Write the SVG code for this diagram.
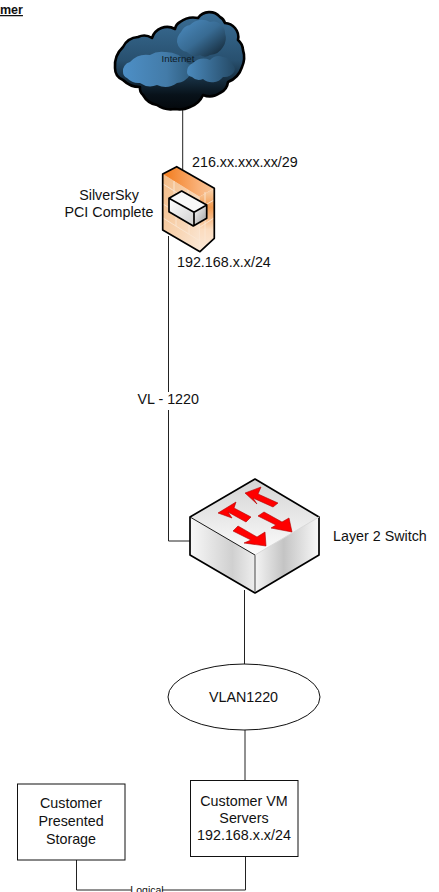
<svg xmlns="http://www.w3.org/2000/svg" width="439" height="892" viewBox="0 0 439 892">
<style>
text{font-family:"Liberation Sans",Arial,sans-serif;fill:#111;font-size:14.3px}
.m{text-anchor:middle}
.c{fill:none;stroke:#222;stroke-width:1}
.box{fill:#fff;stroke:#111;stroke-width:1}
.e{fill:none;stroke:#000;stroke-width:1.700;stroke-linejoin:round}
.a{fill:#f00;stroke:#b00000;stroke-width:.6;stroke-linejoin:round}
.brick{fill:none;stroke:#fbe6d2;stroke-width:.9}
</style>
<defs>
<linearGradient id="cl" x1="0" y1="0" x2="0" y2="1"><stop offset="0" stop-color="#3a6e96"/><stop offset=".5" stop-color="#28506f"/><stop offset=".85" stop-color="#08121a"/><stop offset="1" stop-color="#04080c"/></linearGradient>
<linearGradient id="pf1" x1="0" y1="0" x2="1" y2="0"><stop offset="0" stop-color="#4d8fc6"/><stop offset=".6" stop-color="#437ba8"/><stop offset="1" stop-color="#2c5878"/></linearGradient>
<linearGradient id="pf2" x1="0" y1="0" x2="1" y2="1"><stop offset="0" stop-color="#4d8dc2"/><stop offset=".5" stop-color="#386b93"/><stop offset="1" stop-color="#10202c"/></linearGradient>
<linearGradient id="pf3" x1="0" y1="0" x2="1" y2="0"><stop offset="0" stop-color="#4b8abd"/><stop offset="1" stop-color="#254a66"/></linearGradient>
<linearGradient id="wt" x1="0" y1="0" x2="1" y2="0"><stop offset="0" stop-color="#f27a1a"/><stop offset=".7" stop-color="#f9b27a"/><stop offset="1" stop-color="#f7c79a"/></linearGradient>
<linearGradient id="wl" x1="0" y1="0" x2="1" y2="1"><stop offset="0" stop-color="#f3bb85"/><stop offset="1" stop-color="#fbe8d6"/></linearGradient>
<linearGradient id="wr" x1="0" y1="0" x2="0" y2="1"><stop offset="0" stop-color="#f9d4ae"/><stop offset=".3" stop-color="#f29a50"/><stop offset=".65" stop-color="#fbdcbf"/><stop offset="1" stop-color="#fbe8d6"/></linearGradient>
<linearGradient id="sw" x1="0.500" y1="0" x2="0.500" y2="1"><stop offset="0" stop-color="#d4d4d4"/><stop offset="1" stop-color="#fcfcfc"/></linearGradient>
<linearGradient id="sl" x1="0" y1="0" x2="1" y2="0"><stop offset="0" stop-color="#f8f8f8"/><stop offset=".65" stop-color="#d0d0d0"/><stop offset="1" stop-color="#eeeeee"/></linearGradient>
<linearGradient id="sr" x1="0" y1="0" x2="1" y2="0"><stop offset="0" stop-color="#f4f4f4"/><stop offset=".45" stop-color="#c4c4c4"/><stop offset="1" stop-color="#f8f8f8"/></linearGradient>
<linearGradient id="bf" x1="0" y1="0" x2="1" y2="1"><stop offset="0" stop-color="#fff"/><stop offset="1" stop-color="#d0d0d0"/></linearGradient>
<linearGradient id="bx" x1="0" y1="0" x2="1" y2="1"><stop offset="0" stop-color="#fff"/><stop offset="1" stop-color="#9a9a9a"/></linearGradient>
</defs>
<text x="0" y="14" font-weight="700" text-decoration="underline" style="font-size:12.5px">mer</text>
<g id="connectors">
<path class="c" d="M182.700 106V172"/>
<path class="c" d="M168.500 236V392M168.500 410V541H192"/>
<path class="c" d="M244.500 590V664M245 730V780"/>
<path class="c" d="M76.500 860V890H131.500M162 890H245.500V856"/>
</g>
<g id="internet">
<path fill="url(#cl)" stroke="#000" stroke-width="2.600" stroke-linejoin="round" d="M115 68A26 26 0 0 1 123 47A18 18 0 0 1 138 37A14 14 0 0 1 152 38A16 16 0 0 1 175 29A10 10 0 0 1 180 22A22 22 0 0 1 198 18A14 14 0 0 1 220 17A10 10 0 0 1 225 23A14 14 0 0 1 235 28A14 14 0 0 1 238 40A14 14 0 0 1 243 50A24 24 0 0 1 242 67A24 24 0 0 1 228 82A14 14 0 0 1 220 93A18 18 0 0 1 203 95A22 22 0 0 1 190 107A24 24 0 0 1 175 109A24 24 0 0 1 157 105A20 20 0 0 1 143 95A9 9 0 0 1 140 87A24 24 0 0 1 123 80A13 13 0 0 1 115 68Z"/>
<path fill="url(#pf2)" d="M177 42A14 14 0 0 1 181 32A12 12 0 0 1 190 25A16 16 0 0 1 210 22A12 12 0 0 1 222 26A9 9 0 0 1 225 33A16 16 0 0 1 223 47A16 16 0 0 1 210 55A9 9 0 0 1 200 55A11 11 0 0 1 187 52A12 12 0 0 1 177 42Z"/>
<path fill="url(#pf1)" d="M123 72A9 9 0 0 1 130 62A22 22 0 0 1 150 55A22 22 0 0 1 165 52A26 26 0 0 1 187 63Q192 66 196 66Q190 70 190 75A18 18 0 0 1 177 83A20 20 0 0 1 157 85A18 18 0 0 1 140 83A16 16 0 0 1 127 78Q123 76 123 72Z"/>
<path fill="url(#pf3)" d="M187 72A10 10 0 0 1 193 63A16 16 0 0 1 210 60A12 12 0 0 1 223 57A12 12 0 0 1 233 65A6 6 0 0 1 234 72A12 12 0 0 1 223 77A14 14 0 0 1 203 79A10 10 0 0 1 192 77Q187 76 187 72Z"/>
<text x="178" y="62" class="m" style="font-size:9.700px;fill:#0e1a26">Internet</text>
</g>
<g id="firewall">
<path fill="url(#wl)" d="M162.700 174L199.500 196.700L200 251.700L162.700 230Z"/>
<path fill="url(#wr)" d="M199.500 196.700L214.300 188.300V238.300L200 251.700Z"/>
<path fill="url(#wt)" d="M162.700 174L176.700 166.700L214.300 188.300L199.500 196.700Z"/>
<path class="brick" d="M163 184L200 207M163 204L200 227M163 218L200 241M174 181V194M188 190V203M176 212V226M189 220V234M205 192V242M200 208L214 200M200 227L214 218"/>
<path class="e" d="M162.700 174L176.700 166.700L214.300 188.300V238.300L200 251.700L162.700 230Z"/>
<g id="firewall-box">
<path fill="#f8f8f8" d="M169 198.300L181.700 191L206.700 205L194 212.300Z"/>
<path fill="url(#bf)" d="M169 198.300L194 212.300L193.300 226L169 211.700Z"/>
<path fill="url(#bx)" d="M194 212.300L206.700 205V218.300L193.300 226Z"/>
<path class="e" d="M169 198.300L181.700 191L206.700 205V218.300L193.300 226L169 211.700ZM169 198.300L194 212.300V226M194 212.300L206.700 205"/>
</g>
</g>
<g id="switch">
<path fill="url(#sw)" d="M190 517L255 479L319 517L255 555Z"/>
<path fill="url(#sl)" d="M190 517L255 555V593L190 555Z"/>
<path fill="url(#sr)" d="M255 555L319 517V555L255 593Z"/>
<path class="e" d="M190 517L255 479L319 517V555L255 593L190 555Z"/>
<path fill="none" stroke="#000" stroke-width=".9" d="M190 517L255 555"/>
<path fill="none" stroke="#777" stroke-width="1.400" d="M255 555V592"/>
<path fill="none" stroke="#d8d8d8" stroke-width="1" d="M255 555L319 517"/>
<path class="a" d="M245 493L261 487L258 494L278 503L273 507L253 498L257 504Z"/>
<path class="a" d="M218 513L236 502L234 508L251 517L246 522L228 512L232 518Z"/>
<path class="a" d="M264 512L282 522L289 518L292 532L271 528L276 525L258 516Z"/>
<path class="a" d="M238 526L257 537L265 532L266 546L244 543L251 540L233 531Z"/>
</g>
<g id="vlan1220">
<ellipse class="box" cx="244" cy="697" rx="76" ry="33"/>
<text x="243.500" y="702" class="m">VLAN1220</text>
</g>
<g id="vm-servers">
<rect class="box" x="190.500" y="780.500" width="107.500" height="76"/>
<text class="m"><tspan x="244" y="806">Customer VM</tspan><tspan x="244" y="823">Servers</tspan><tspan x="244" y="840">192.168.x.x/24</tspan></text>
</g>
<g id="presented-storage">
<rect class="box" x="17.500" y="784" width="107.500" height="76"/>
<text class="m"><tspan x="71" y="808">Customer</tspan><tspan x="71" y="826">Presented</tspan><tspan x="71" y="844">Storage</tspan></text>
</g>
<g id="labels">
<text x="192" y="167">216.xx.xxx.xx/29</text>
<text class="m"><tspan x="109" y="200">SilverSky</tspan><tspan x="109" y="217">PCI Complete</tspan></text>
<text x="177" y="267">192.168.x.x/24</text>
<text x="137.500" y="404">VL - 1220</text>
<text x="333" y="541">Layer 2 Switch</text>
<text x="147" y="894" class="m" style="font-size:10.500px">Logical</text>
</g>
</svg>
